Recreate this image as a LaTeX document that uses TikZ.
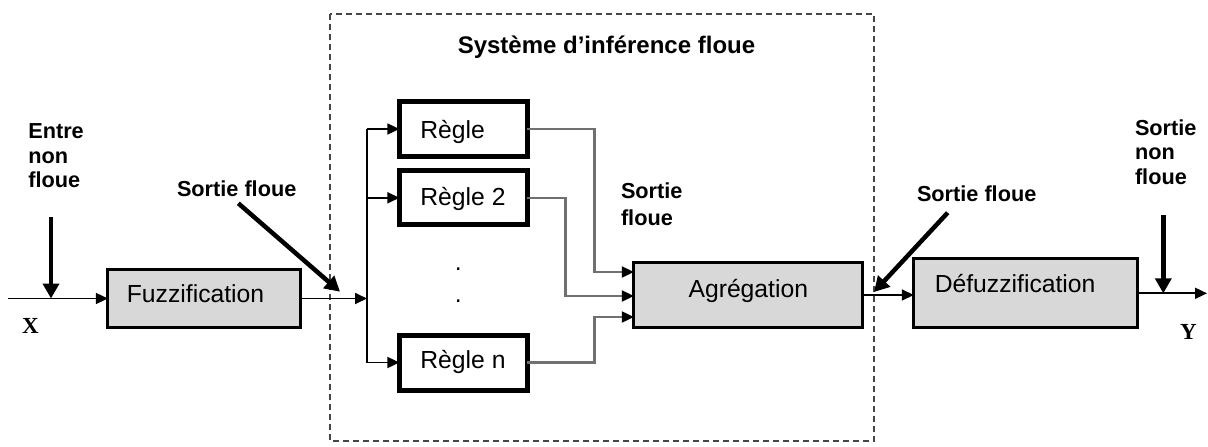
\documentclass[tikz,border=0pt]{standalone}
\usepackage{fontspec}
\setmainfont{Liberation Sans}
\newfontfamily\timesfont{Liberation Serif}
\usetikzlibrary{arrows.meta}
\definecolor{boxgrey}{RGB}{216,216,216}
\definecolor{wiregrey}{RGB}{112,112,112}
\definecolor{frame}{RGB}{70,70,70}
\newcommand{\leftin}[2]{\hbox to #1{#2\hss}}
\begin{document}
\begin{tikzpicture}[x=1pt,y=-1pt,
  every node/.style={inner sep=0pt, outer sep=0pt},
  wire/.style={line width=1.7pt, -{Triangle[length=12pt,width=11pt]}},
  plainwire/.style={line width=1.7pt},
  greywire/.style={draw=wiregrey, line width=2.2pt, -{Triangle[length=12pt,width=11pt,color=black]}},
  pointer/.style={line width=4.5pt, -{Triangle[length=15pt,width=16pt]}},
  label/.style={font=\bfseries\fontsize{21.7}{24.7}\selectfont, align=left, anchor=north west},
  blockfont/.style={font=\fontsize{24.7}{29}\selectfont},
  greyblock/.style={draw=black, fill=boxgrey, line width=3pt, blockfont},
  ruleblock/.style={draw=black, fill=white, line width=5pt, blockfont, inner xsep=21pt},
  dotmark/.style={blockfont, anchor=base},
  varname/.style={font=\timesfont\bfseries\fontsize{23}{26}\selectfont, anchor=base west}
]
\useasboundingbox (0,0) rectangle (1208,447);

% frame of the inference system
\draw[frame, line width=1.6pt, dash pattern=on 6pt off 4pt] (330,14) rectangle (874,441);
\node[font=\bfseries\fontsize{24}{28}\selectfont, anchor=base] (title) at (606.5,53.3)
  {Système d’inférence floue};

% blocks
\node[greyblock, inner xsep=19pt, text height=32.9pt, text depth=25.1pt]
  (fuzz) at (204.4,298.5) {\leftin{155pt}{Fuzzification}};
\node[ruleblock, text height=36.8pt, text depth=18.2pt] (r1) at (463.4,129) {\leftin{86pt}{Règle}};
\node[ruleblock, text height=34.2pt, text depth=19.8pt] (r2) at (463.4,197.8) {\leftin{86pt}{Règle 2}};
\node[ruleblock, text height=33.3pt, text depth=21.7pt] (rn) at (463.4,362.5) {\leftin{86pt}{Règle n}};
\node[greyblock, minimum width=229pt, text height=34.8pt, text depth=30.8pt]
  (agr) at (748.3,295) {Agrégation};
\node[greyblock, inner xsep=21pt, text height=33.9pt, text depth=35.1pt]
  (defuzz) at (1025.8,293.3) {\leftin{182pt}{Défuzzification}};

\node[dotmark] (dot1) at (458.3,270.3) {.};
\node[dotmark] (dot2) at (458.3,302) {.};

% free ends and branch points
\coordinate (xin) at (8,298.5);
\coordinate (yout) at (1207,293.3);
\coordinate (bustop) at (367,129);
\coordinate (busbot) at (367,362.5);
\path (agr.west) ++(0,-23) coordinate (in1);
\path (agr.west) ++(0,1) coordinate (in2);
\path (agr.west) ++(0,22) coordinate (in3);

% main signal path
\draw[wire] (xin) -- (fuzz.west);
\draw[wire] (fuzz.east) -- (fuzz.east -| bustop);
\draw[plainwire] (bustop) -- (busbot);
\draw[wire] (r1.west -| bustop) -- (r1.west);
\draw[wire] (r2.west -| bustop) -- (r2.west);
\draw[wire] (rn.west -| bustop) -- (rn.west);
\draw[greywire] (r1.east) -- ++(67,0) |- (in1);
\draw[greywire] (r2.east) -- ++(38,0) |- (in2);
\draw[greywire] (rn.east) -- ++(67,0) |- (in3);
\draw[wire] (agr.east) -- (agr.east -| defuzz.west);
\draw[wire] (defuzz.east) -- (yout);

% annotations
\node[label] (entre) at (28.3,123.6) {Entre\\non\\floue};
\node[varname] (xname) at (22,333) {X};
\coordinate (entretail) at (51,217);
\draw[pointer] (entretail) -- (entretail |- xin);

\node[label, anchor=base west] (sf1) at (177,196.7) {Sortie floue};
\coordinate (sf1tail) at (238.3,203.3);
\coordinate (sf1head) at (340,291.7);
\draw[pointer] (sf1tail) -- (sf1head);

\node[label, font=\bfseries\fontsize{21.7}{26.7}\selectfont] (sf2) at (621,182.6) {Sortie\\floue};

\node[label, anchor=base west] (sf3) at (917,201.7) {Sortie floue};
\coordinate (sf3tail) at (947.7,212.7);
\coordinate (sf3head) at (874,292);
\draw[pointer] (sf3tail) -- (sf3head);

\node[label] (snf) at (1135,119.5) {Sortie\\non\\floue};
\node[varname] (yname) at (1180,339) {Y};
\coordinate (snftail) at (1163.3,215);
\draw[pointer] (snftail) -- (snftail |- yout);
\end{tikzpicture}
\end{document}
